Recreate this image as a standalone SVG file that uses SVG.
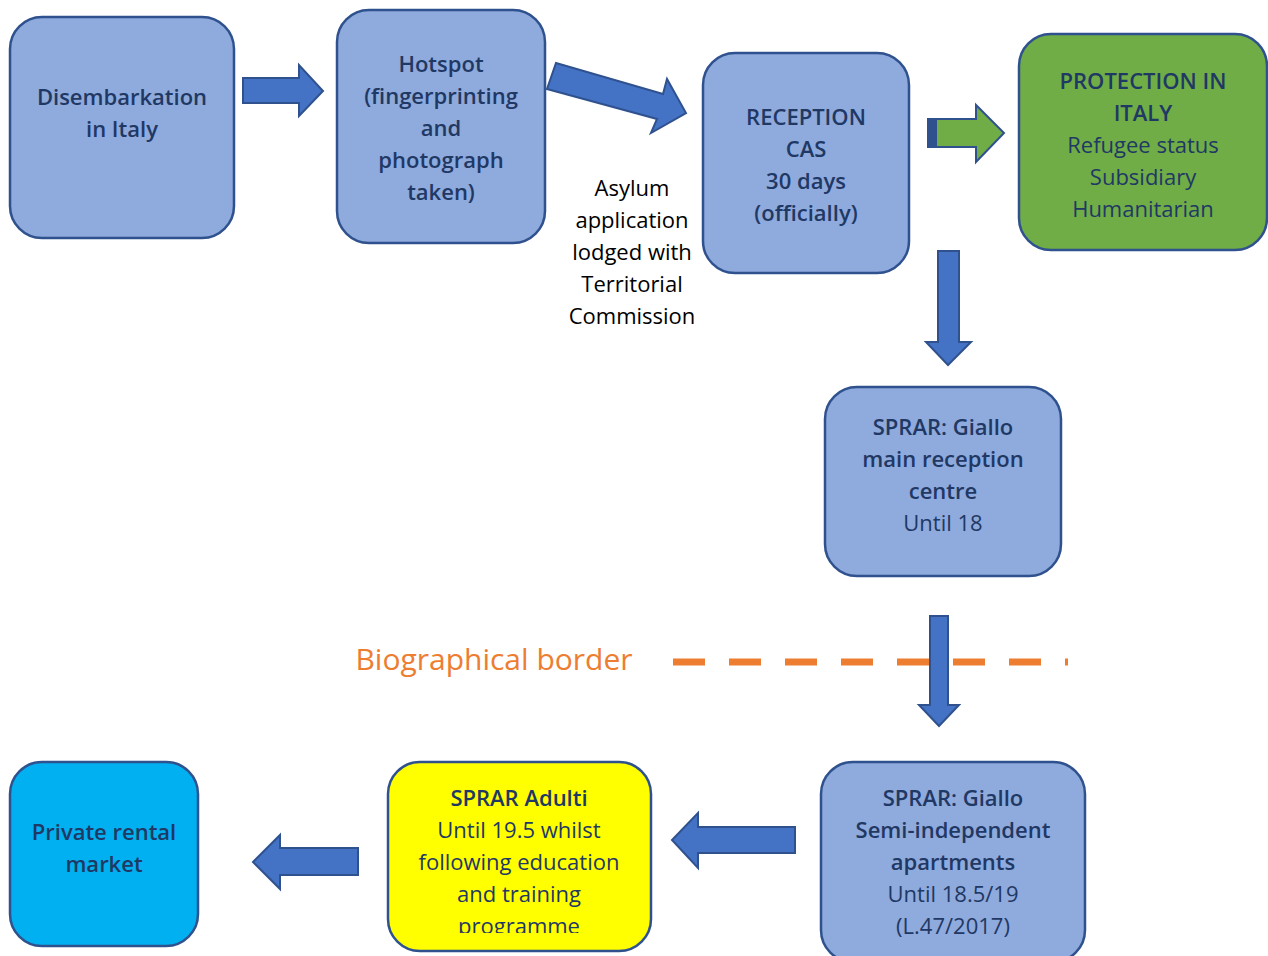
<svg xmlns="http://www.w3.org/2000/svg" width="1268" height="956" viewBox="0 0 1268 956">
<style>
.box{fill:#8FAADC;stroke:#2F528F;stroke-width:2.5}
.arr{fill:#4472C4;stroke:#2F528F;stroke-width:2;stroke-linejoin:miter}
text{font-family:"Open Sans","Noto Sans","Liberation Sans",sans-serif;font-size:22px;fill:#1F3864;text-anchor:middle}
.b{font-weight:600}
.k{fill:#000000}
</style>
<defs>
<clipPath id="clipY"><rect x="380" y="760" width="280" height="173"/></clipPath>
</defs>
<rect width="1268" height="956" fill="#FFFFFF"/>

<g id="connectors">
<polygon class="arr" points="243,78 299,78 299,65 323,91 299,116 299,103 243,103"/>
<polygon class="arr" points="556,63 663,94 667,79 686,113 651,133 657,119 547,89"/>
<polygon points="928,119 976,119 976,105 1004,133 976,162 976,147 928,147" fill="#70AD47" stroke="#2F528F" stroke-width="2"/>
<rect x="928" y="119" width="9" height="28" fill="#2F528F"/>
<polygon class="arr" points="938,251 959,251 959,342 971,342 948,365 926,342 938,342"/>
<line x1="673" y1="662" x2="1068" y2="662" stroke="#ED7D31" stroke-width="7" stroke-dasharray="32 24"/>
<polygon class="arr" points="930,616 948,616 948,705 959,705 939,726 919,705 930,705"/>
<polygon class="arr" points="795,827 698,827 698,813 672,840 698,868 698,853 795,853"/>
<polygon class="arr" points="358,848 280,848 280,835 253,862 280,889 280,875 358,875"/>
</g>

<g id="n-disembarkation">
<rect class="box" x="10" y="17" width="224" height="221" rx="32"/>
<text class="b" x="122" y="105">Disembarkation</text>
<text class="b" x="122" y="137">in Italy</text>
</g>

<g id="n-hotspot">
<rect class="box" x="337" y="10" width="208" height="233" rx="32"/>
<text class="b" x="441" y="72">Hotspot</text>
<text class="b" x="441" y="104">(fingerprinting</text>
<text class="b" x="441" y="136">and</text>
<text class="b" x="441" y="168">photograph</text>
<text class="b" x="441" y="200">taken)</text>
</g>

<g id="n-asylum">
<text class="k" x="632" y="196">Asylum</text>
<text class="k" x="632" y="228">application</text>
<text class="k" x="632" y="260">lodged with</text>
<text class="k" x="632" y="292">Territorial</text>
<text class="k" x="632" y="324">Commission</text>
</g>

<g id="n-reception">
<rect class="box" x="703" y="53" width="206" height="220" rx="32"/>
<text class="b" x="806" y="125">RECEPTION</text>
<text class="b" x="806" y="157">CAS</text>
<text class="b" x="806" y="189">30 days</text>
<text class="b" x="806" y="221">(officially)</text>
</g>

<g id="n-protection">
<rect x="1019" y="34" width="248" height="216" rx="32" fill="#70AD47" stroke="#2F528F" stroke-width="2.5"/>
<text class="b" x="1143" y="89">PROTECTION IN</text>
<text class="b" x="1143" y="121">ITALY</text>
<text x="1143" y="153">Refugee status</text>
<text x="1143" y="185">Subsidiary</text>
<text x="1143" y="217">Humanitarian</text>
</g>

<g id="n-giallo-main">
<rect class="box" x="825" y="387" width="236" height="189" rx="32"/>
<text class="b" x="943" y="435">SPRAR: Giallo</text>
<text class="b" x="943" y="467">main reception</text>
<text class="b" x="943" y="499">centre</text>
<text x="943" y="531">Until 18</text>
</g>

<g id="n-border">
<text x="494" y="670" style="font-size:30px;fill:#ED7D31">Biographical border</text>
</g>

<g id="n-giallo-semi">
<rect class="box" x="821" y="762" width="264" height="200" rx="32"/>
<text class="b" x="953" y="806">SPRAR: Giallo</text>
<text class="b" x="953" y="838">Semi-independent</text>
<text class="b" x="953" y="870">apartments</text>
<text x="953" y="902">Until 18.5/19</text>
<text x="953" y="934">(L.47/2017)</text>
</g>

<g id="n-adulti">
<rect x="388" y="762" width="263" height="189" rx="32" fill="#FFFF00" stroke="#2F528F" stroke-width="2.5"/>
<text class="b" x="519" y="806">SPRAR Adulti</text>
<text x="519" y="838">Until 19.5 whilst</text>
<text x="519" y="870">following education</text>
<text x="519" y="902">and training</text>
<text x="519" y="934" clip-path="url(#clipY)">programme</text>
</g>

<g id="n-private">
<rect x="10" y="762" width="188" height="184" rx="32" fill="#00B0F0" stroke="#2F528F" stroke-width="2.5"/>
<text class="b" x="104" y="840">Private rental</text>
<text class="b" x="104" y="872">market</text>
</g>
</svg>
